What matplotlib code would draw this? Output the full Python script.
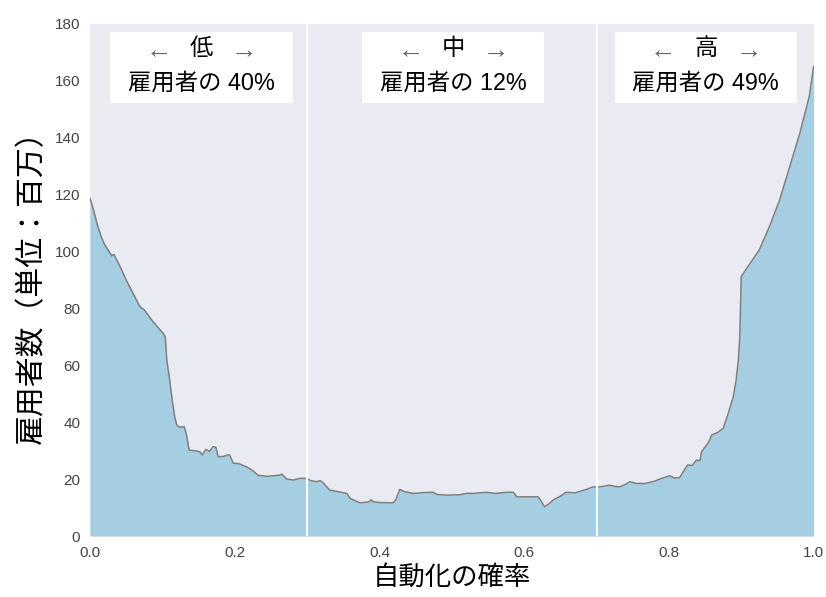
import matplotlib
matplotlib.use("Agg")
import matplotlib.pyplot as plt
from matplotlib.patches import Rectangle

plt.rcParams['font.family'] = ['Liberation Sans', 'Noto Sans CJK JP', 'DejaVu Sans']

prob = [0.000, 0.005, 0.010, 0.015, 0.020, 0.025, 0.030, 0.033, 0.040, 0.050,
        0.060, 0.069, 0.075, 0.085, 0.095, 0.101, 0.104, 0.106, 0.110, 0.114,
        0.117, 0.120, 0.124, 0.130, 0.133, 0.137, 0.145, 0.152, 0.155, 0.160,
        0.165, 0.170, 0.174, 0.177, 0.185, 0.190, 0.193, 0.198, 0.205, 0.216,
        0.225, 0.232, 0.245, 0.262, 0.265, 0.272, 0.281, 0.290, 0.299, 0.305,
        0.313, 0.318, 0.322, 0.331, 0.345, 0.355, 0.359, 0.366, 0.373, 0.385,
        0.389, 0.391, 0.400, 0.419, 0.423, 0.428, 0.435, 0.447, 0.460, 0.474,
        0.480, 0.493, 0.510, 0.520, 0.529, 0.548, 0.560, 0.575, 0.585, 0.590,
        0.610, 0.619, 0.623, 0.628, 0.635, 0.640, 0.650, 0.658, 0.670, 0.686,
        0.695, 0.705, 0.718, 0.725, 0.732, 0.740, 0.746, 0.755, 0.767, 0.780,
        0.787, 0.801, 0.808, 0.815, 0.822, 0.826, 0.832, 0.838, 0.843, 0.845,
        0.852, 0.855, 0.859, 0.868, 0.875, 0.882, 0.889, 0.893, 0.896, 0.898,
        0.899, 0.900, 0.910, 0.925, 0.939, 0.953, 0.967, 0.981, 0.994, 1.000]
employment = [118.7, 114.5, 109.5, 105.5, 102.5, 100.5, 98.5, 99.0, 95.5, 90.0,
              85.0, 80.6, 79.5, 76.0, 73.0, 71.3, 70.0, 62.0, 55.0, 47.0,
              41.9, 39.0, 38.2, 38.5, 36.0, 30.2, 30.0, 29.6, 28.5, 30.5,
              29.8, 31.4, 31.2, 27.9, 28.0, 28.5, 28.5, 25.6, 25.5, 24.4,
              23.0, 21.4, 21.0, 21.4, 21.8, 20.0, 19.7, 20.3, 20.3, 19.5,
              19.1, 19.5, 18.8, 16.2, 15.5, 15.0, 13.3, 12.5, 11.7, 12.0,
              12.8, 12.1, 11.8, 11.7, 13.0, 16.4, 15.6, 15.0, 15.3, 15.4,
              14.6, 14.4, 14.5, 15.0, 15.0, 15.4, 15.0, 15.4, 15.4, 13.8,
              13.8, 13.8, 12.5, 10.3, 11.5, 12.7, 14.0, 15.4, 15.2, 16.4,
              17.3, 17.3, 17.9, 17.5, 17.3, 18.2, 19.1, 18.5, 18.5, 19.3,
              20.0, 21.2, 20.4, 20.6, 23.5, 25.0, 24.8, 26.7, 26.5, 29.6,
              32.0, 33.0, 35.5, 36.5, 37.9, 43.1, 49.0, 54.9, 62.0, 70.0,
              80.0, 91.2, 95.0, 100.6, 108.8, 118.1, 129.9, 141.6, 154.5, 165.0]

region_lines = [0.3, 0.7]
region_names = ['低', '中', '高']
region_shares = ['40%', '12%', '49%']
xticks = [0.0, 0.2, 0.4, 0.6, 0.8, 1.0]
yticks = [0, 20, 40, 60, 80, 100, 120, 140, 160, 180]

fig = plt.figure(figsize=(8.26, 5.97), dpi=100)
ax = fig.add_axes([0.109, 0.102, 0.876, 0.858])
ax.set_facecolor('#EAEAF2')
for s in ax.spines.values():
    s.set_visible(False)

ax.fill_between(prob, employment, 0, color='#A6CEE3', linewidth=0, zorder=1)
ax.plot(prob, employment, color='#7f7f7f', lw=1.1, zorder=2)
for xv in region_lines:
    ax.axvline(xv, color='white', lw=1.5, zorder=3)

ax.set_xlim(0, 1)
ax.set_ylim(0, 180)
ax.set_xticks(xticks)
ax.set_xticklabels([f'{v:.1f}' for v in xticks])
ax.set_yticks(yticks)
ax.tick_params(length=0, labelsize=11, labelcolor='#444444', pad=7)

box_x = [(0.0276, 0.280), (0.376, 0.628), (0.725, 0.977)]
for (x0, x1), name, share in zip(box_x, region_names, region_shares):
    ax.add_patch(Rectangle((x0, 0.846), x1 - x0, 0.138, transform=ax.transAxes,
                           facecolor='white', edgecolor='none', zorder=4))
    cx = (x0 + x1) / 2
    ax.text(cx, 0.951, name, transform=ax.transAxes, ha='center',
            va='center', fontsize=16.8, zorder=5)
    ax.text(cx - 0.059, 0.946, '←', transform=ax.transAxes, ha='center',
            va='center', fontsize=19, color='#666666', zorder=5)
    ax.text(cx + 0.059, 0.946, '→', transform=ax.transAxes, ha='center',
            va='center', fontsize=19, color='#666666', zorder=5)
    ax.text(cx, 0.885, f'雇用者の {share}', transform=ax.transAxes, ha='center',
            va='center', fontsize=16.8, zorder=5)

ax.set_xlabel('自動化の確率', fontsize=19, labelpad=4)
ax.set_ylabel('雇用者数（単位：百万）', fontsize=21.5, labelpad=6)

fig.savefig('out.png', dpi=100)
